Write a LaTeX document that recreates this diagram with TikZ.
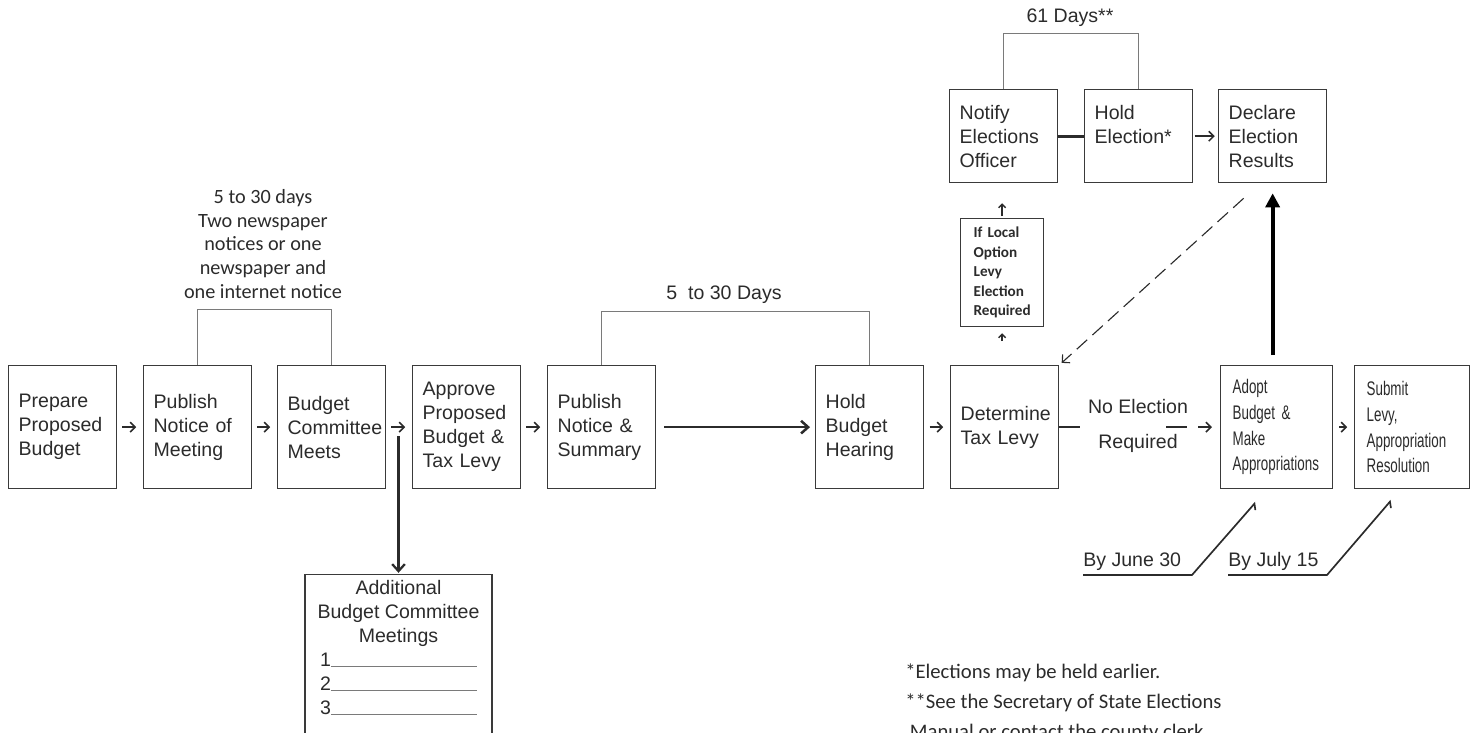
\documentclass[tikz,border=0pt]{standalone}
\usepackage{fontspec}
\setmainfont{Liberation Sans}
\newfontfamily\calibrifont{Carlito}
\newfontfamily\narrowfont[FakeStretch=0.68]{Liberation Sans}
\usetikzlibrary{arrows.meta, positioning, calc}
\definecolor{inkgray}{HTML}{2B2B2B}
\definecolor{edgegray}{HTML}{3A3A3A}
\definecolor{bracketgray}{HTML}{7A7A7A}

\begin{document}
\begin{tikzpicture}[
    x=0.025cm, y=-0.025cm,
    stage/.style={draw=edgegray, line width=0.9pt, anchor=north west, minimum height=3.075cm, inner xsep=0.25cm, inner ysep=0pt, text width=#1, align=left, text=inkgray, font=\fontsize{13.9}{17.1}\selectfont},
    stage/.default=2.2cm,
    toprow/.style={stage, minimum height=2.325cm},
    note/.style={text=inkgray, font=\fontsize{13.9}{17.1}\selectfont},
    calnote/.style={text=inkgray, align=center, font=\calibrifont\fontsize{14.4}{16.9}\selectfont},
    bracketline/.style={draw=bracketgray, line width=0.7pt},
    flowarrow/.style={-{Straight Barb[length=3.5pt,width=7pt]}, line width=1.1pt, draw=inkgray, shorten <=0.13cm, shorten >=0.17cm},
    tinyarrow/.style={-{Straight Barb[length=2.5pt,width=5pt]}, line width=1pt, draw=inkgray},
    longarrow/.style={-{Straight Barb[length=5pt,width=9pt]}, line width=1.8pt, draw=inkgray},
    bigarrow/.style={-{Triangle[length=10pt,width=10pt]}, line width=2.8pt, draw=black},
    dasharrow/.style={-{Straight Barb[length=4pt,width=8pt]}, dash pattern=on 10pt off 5pt, line width=0.8pt, draw=inkgray},
    dateline/.style={-{Straight Barb[right,length=3pt,width=7pt]}, line width=1.2pt, draw=inkgray},
    plainline/.style={line width=1.1pt, draw=inkgray},
]
    \useasboundingbox (0,0) rectangle (1476,732);
    \clip (0,0) rectangle (1476,732);

    % Main row
    \node[stage] (prep) at (8,365) {Prepare\\Proposed\\Budget};
    \node[stage] (pubmeet) at (143,365) {Publish\\Notice of\\Meeting};
    \node[stage] (bcm) at (277,365) {Budget\\Committee\\Meets};
    \node[stage] (approve) at (412,365) {Approve\\Proposed\\Budget \&\\Tax Levy};
    \node[stage] (pubsum) at (547,365) {Publish\\Notice \&\\Summary};
    \node[stage] (hearing) at (815,365) {Hold\\Budget\\Hearing};
    \node[stage] (levy) at (950,365) {Determine\\Tax Levy};
    \node[stage=2.2cm, inner xsep=0.3cm, font=\narrowfont\fontsize{14}{18.3}\selectfont] (adopt) at (1220,365) {Adopt\\Budget \&\\Make\\Appropriations};
    \node[stage=2.275cm, inner xsep=0.3cm, font=\narrowfont\fontsize{14}{18.3}\selectfont] (submit) at (1354,365) {Submit\\Levy,\\Appropriation\\Resolution};

    \draw[flowarrow] (prep) -- (pubmeet);
    \draw[flowarrow] (pubmeet) -- (bcm);
    \draw[flowarrow] (bcm) -- (approve);
    \draw[flowarrow] (approve) -- (pubsum);
    \draw[longarrow, shorten <=0.2cm, shorten >=0.125cm] (pubsum) -- (hearing);
    \draw[flowarrow] (hearing) -- (levy);
    \draw[flowarrow, shorten <=0.15cm, shorten >=0.17cm] (adopt) -- (submit);

    % Newspaper notice window
    \draw[bracketline] (pubmeet.north) -- ++(0,-56) -| (bcm.north);
    \node[calnote] (paper) at (263,244) {5 to 30 days\\Two newspaper\\notices or one\\newspaper and\\one internet notice};

    % Hearing window
    \draw[bracketline] (pubsum.north) -- ++(0,-54) -| (hearing.north);
    \node[note] (hearwin) at (724,295) {5~~to 30 Days};

    % Extra committee meetings
    \node[draw=edgegray, line width=0.9pt, anchor=north, minimum width=4.675cm, minimum height=5cm] (addbox) at (398.5,574) {};
    \node[below=1pt of addbox.north, note, align=center] (addtext) {Additional\\Budget Committee\\Meetings\\1\textcolor{bracketgray}{\rule{3.65cm}{0.5pt}}\\2\textcolor{bracketgray}{\rule{3.65cm}{0.5pt}}\\3\textcolor{bracketgray}{\rule{3.65cm}{0.5pt}}};
    \coordinate (branch) at (398.5,436);
    \draw[longarrow, line width=1.6pt, shorten >=0.03cm] (branch) -- (addbox.north);

    % Election branch
    \node[toprow] (notify) at (949,89) {Notify\\Elections\\Officer};
    \node[toprow] (holdel) at (1084,89) {Hold\\Election*\\\mbox{}};
    \node[toprow] (declare) at (1218,89) {Declare\\Election\\Results};
    \draw[bracketline] (notify.north) -- ++(0,-56) -| (holdel.north);
    \node[note] (elecwin) at (1070,18) {61 Days**};
    \draw[plainline, line width=2pt] (notify) -- (holdel);
    \draw[flowarrow, shorten <=0.03cm, shorten >=0.08cm] (holdel) -- (declare);

    \node[stage=1.425cm, inner xsep=0.325cm, minimum height=2.7cm, font=\calibrifont\bfseries\fontsize{10.8}{13.9}\selectfont] (local) at (960,218) {If Local\\Option\\Levy\\Election\\Required};
    \draw[tinyarrow, shorten <=0.05cm, shorten >=0.5cm] (local.north) -- (local.north |- notify.south);
    \draw[tinyarrow, shorten <=0.6cm, shorten >=0.15cm] (local.south |- levy.north) -- (local.south);

    \coordinate (dashstart) at ($(declare.south)+(-29,15)$);
    \draw[dasharrow, shorten >=0.08cm] (dashstart) -- (levy.north east);
    \draw[bigarrow, shorten <=0.25cm, shorten >=0.25cm] (declare.south |- adopt.north) -- (declare.south);

    % No election path
    \draw[plainline] (levy.east) -- ++(21,0);
    \node[note] (noelec) at (1138,407) {No Election};
    \node[note] (noreq) at (1138,443) {Required};
    \draw[plainline] ($(adopt.west)+(-54,0)$) -- ++(21,0);
    \draw[flowarrow, shorten <=0pt, shorten >=0.2cm] ($(adopt.west)+(-22,0)$) -- (adopt.west);

    % Deadlines
    \node[note, anchor=south west, inner xsep=0pt, inner ysep=3pt] (june) at (1083,575) {By June 30};
    \draw[dateline] (june.south west) -- ++(109,0) -- ($(adopt.south)+(-21,13)$);
    \node[note, anchor=south west, inner xsep=0pt, inner ysep=3pt] (july) at (1228,575) {By July 15};
    \draw[dateline] (july.south west) -- ++(99,0) -- ($(submit.south)+(-21,11)$);

    % Footnotes
    \node[anchor=west, align=left, inner sep=0pt, text=inkgray, font=\calibrifont\fontsize{14.7}{21.3}\selectfont] (foot) at (905,703) {*Elections may be held earlier.\\**See the Secretary of State Elections\\\ Manual or contact the county clerk};
\end{tikzpicture}
\end{document}
